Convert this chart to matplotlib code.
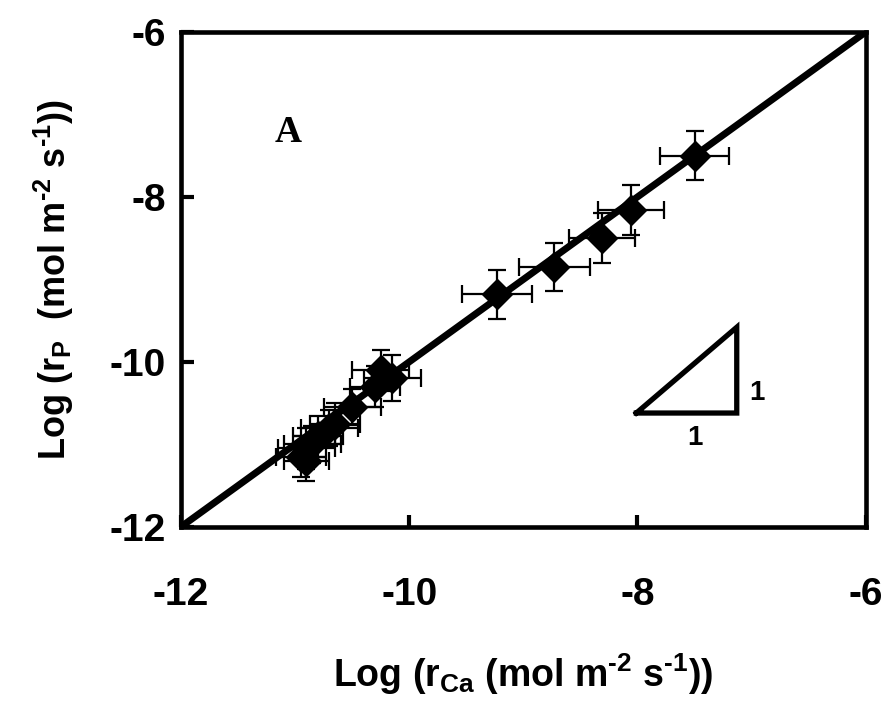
import matplotlib
matplotlib.use("Agg")
from matplotlib import pyplot as plt

# data (log10 rates)
log_rca = [-7.5, -8.06, -8.31, -8.73, -9.23,
           -10.15, -10.25, -10.3, -10.5, -10.65, -10.7, -10.8, -10.85, -10.9, -10.95, -10.9]
log_rp = [-7.5, -8.16, -8.5, -8.85, -9.18,
          -10.2, -10.1, -10.3, -10.55, -10.75, -10.8, -10.9, -11.0, -11.05, -11.15, -11.2]
err_x = [0.3, 0.29, 0.29, 0.31, 0.31,
         0.25, 0.25, 0.22, 0.25, 0.22, 0.25, 0.22, 0.25, 0.25, 0.22, 0.2]
err_y = [0.3, 0.3, 0.3, 0.29, 0.3,
         0.28, 0.25, 0.25, 0.22, 0.25, 0.22, 0.25, 0.22, 0.25, 0.25, 0.25]

fit_x = [-12, -6]
fit_y = [-12, -6]

ticks = [-12, -10, -8, -6]

plt.rcParams["font.family"] = ["Liberation Sans", "DejaVu Sans"]
plt.rcParams["font.weight"] = "bold"
plt.rcParams["axes.unicode_minus"] = False
plt.rcParams["mathtext.fontset"] = "custom"
plt.rcParams["mathtext.rm"] = "Liberation Sans:bold"
plt.rcParams["mathtext.bf"] = "Liberation Sans:bold"
plt.rcParams["mathtext.default"] = "bf"

fig = plt.figure(figsize=(8.87, 7.11), dpi=100)
ax = fig.add_axes([0.204, 0.259, 0.772, 0.696])

ax.plot(fit_x, fit_y, color="black", lw=5, zorder=2)
ax.errorbar(log_rca, log_rp, xerr=err_x, yerr=err_y, fmt="D", color="black",
            ms=15, ecolor="black", elinewidth=1.6, capsize=6.5, capthick=1.6, zorder=3)

# 1:1 slope triangle
ax.plot([-8.01, -7.13, -7.13, -8.01], [-10.62, -10.62, -9.58, -10.62],
        color="black", lw=3.8, solid_joinstyle="miter")
ax.text(-6.95, -10.38, "1", fontsize=20, fontweight="bold", ha="center", va="center")
ax.text(-7.5, -10.92, "1", fontsize=20, fontweight="bold", ha="center", va="center")

ax.text(-11.06, -7.22, "A", fontsize=27, fontweight="bold", ha="center", va="center",
        family="Liberation Serif")

ax.set_xlim(-12, -6)
ax.set_ylim(-12, -6)
ax.set_xticks(ticks)
ax.set_yticks(ticks)
ax.tick_params(direction="in", length=9, width=3, labelsize=28)
ax.tick_params(axis="x", pad=36)
ax.tick_params(axis="y", pad=11)
for s in ax.spines.values():
    s.set_linewidth(3.3)

ax.set_xlabel("Log (r$_{Ca}$ (mol m$^{\u20102}$ s$^{\u20101}$))",
              fontsize=27, fontweight="bold", labelpad=28)
ax.set_ylabel("Log (r$_{P}$  (mol m$^{\u20102}$ s$^{\u20101}$))",
              fontsize=26, fontweight="bold", labelpad=24)

plt.savefig("out.png", dpi=100)
